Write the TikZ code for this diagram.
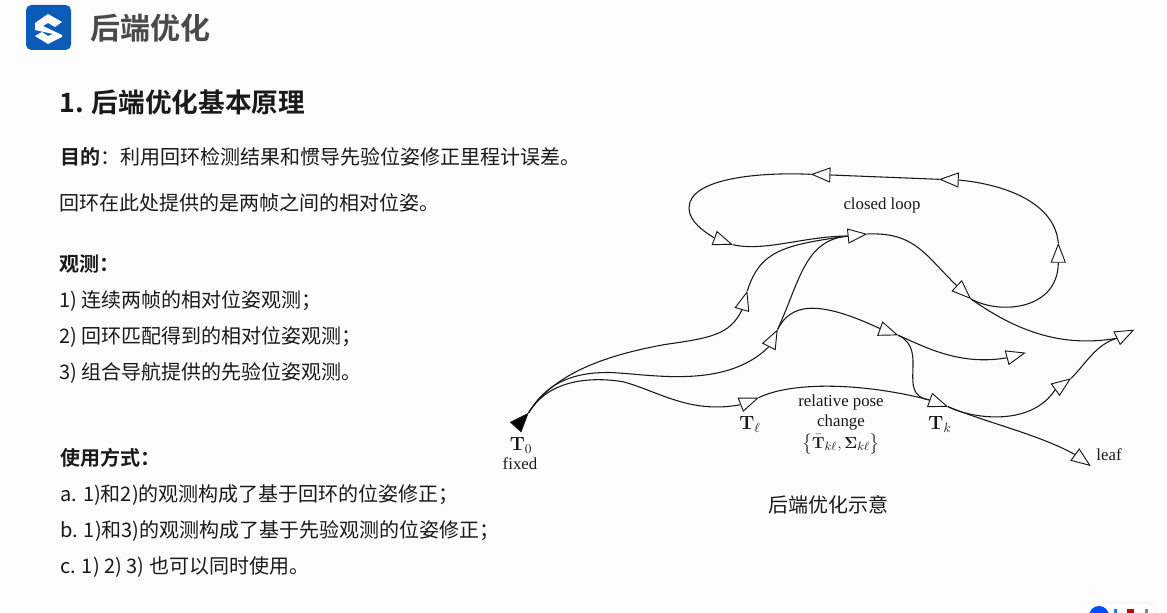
\documentclass[tikz,border=0pt]{standalone}
\usepackage{amsmath, amssymb}
\usepackage[no-math]{fontspec}
\setmainfont{Liberation Serif}
\newfontfamily\cjk{Noto Sans CJK SC}
\newfontfamily\cjkb{Noto Sans CJK SC Bold}
\usetikzlibrary{shapes.geometric}
\definecolor{logoblue}{HTML}{0B5CB8}
\definecolor{titlegrey}{HTML}{4A4A4A}
\definecolor{bodyblack}{HTML}{1A1A1A}
\definecolor{pagewhite}{HTML}{FCFCFC}
\tikzset{
  pose/.style={isosceles triangle,isosceles triangle stretches,draw=black!90,inner sep=0pt,
    minimum height=13.5pt,minimum width=10.5pt,anchor=apex,line width=0.7pt},
  fixedpose/.style={pose,fill=black},
  edge/.style={line width=0.8pt,draw=black!90},
  bodytext/.style={anchor=west,inner sep=0pt,text=bodyblack,text height=13pt,text depth=2pt,font=\cjk\fontsize{15}{18}\selectfont},
  boldtext/.style={bodytext,font=\cjkb\fontsize{15}{18}\selectfont},
  figtext/.style={inner sep=0pt,text=black!90,font=\fontsize{12.6}{15}\selectfont},
  mathtext/.style={figtext,font=\fontsize{14}{16}\selectfont},
  infotext/.style={figtext,font=\fontsize{13}{15}\selectfont}
}
\begin{document}
\begin{tikzpicture}[x=0.75pt,y=-0.75pt]
\useasboundingbox (0,0) rectangle (1167,613);
\fill[pagewhite] (0,0) rectangle (1167,613);
% logo
\fill[logoblue,rounded corners=4pt] (26,5) rectangle (71,50);
\fill[white] (35,23) -- (48,14) -- (62,22) -- (55,27) -- (48,23) -- (43,26) -- (62,35) -- (62,37) -- (48,44) -- (35,36) -- (42,32) -- (48,36) -- (53,34) -- (35,30) -- cycle;
% heading
\node[anchor=west,inner sep=0pt,text=titlegrey,font=\cjkb\fontsize{22.5}{26}\selectfont] (title) at (90,28) {后端优化};
\node[anchor=west,inner sep=0pt,text=bodyblack,font=\cjkb\fontsize{20}{24}\selectfont] (section) at (59,102) {1. 后端优化基本原理};
% left column
\node[bodytext] (goal) at (60,157) {{\cjkb 目的}：利用回环检测结果和惯导先验位姿修正里程计误差。};
\node[bodytext] (loop) at (59,203) {回环在此处提供的是两帧之间的相对位姿。};
\node[boldtext] (obs) at (59,264) {观测：};
\node[bodytext] (obsa) at (59,300) {1) 连续两帧的相对位姿观测；};
\node[bodytext] (obsb) at (59,336) {2) 回环匹配得到的相对位姿观测；};
\node[bodytext] (obsc) at (59,372) {3) 组合导航提供的先验位姿观测。};
\node[boldtext] (use) at (60,458) {使用方式：};
\node[bodytext] (usea) at (60,494) {a. 1)和2)的观测构成了基于回环的位姿修正；};
\node[bodytext] (useb) at (60,530) {b. 1)和3)的观测构成了基于先验观测的位姿修正；};
\node[bodytext] (usec) at (60,566) {c. 1) 2) 3) 也可以同时使用。};
\node[bodytext,anchor=center] (caption) at (828,505) {后端优化示意};
% poses, placed by their tips
\node[fixedpose,rotate=48] (t0) at (528.7,412.7) {};
\node[pose,rotate=21] (tl) at (758.7,397.7) {};
\node[pose,rotate=-20] (tk) at (948,406.7) {};
\node[pose,rotate=74] (pa) at (747.3,291) {};
\node[pose,rotate=63] (pb) at (777.7,329.3) {};
\node[pose,rotate=6] (pc) at (867.3,234) {};
\node[pose,rotate=-43] (pd) at (971,299) {};
\node[pose,rotate=90] (pe) at (1058.3,243) {};
\node[pose,rotate=178] (pf) at (939,179.3) {};
\node[pose,rotate=178] (pg) at (810.7,174.3) {};
\node[pose,rotate=-20] (ph) at (732.7,244.7) {};
\node[pose,rotate=-20] (pi) at (898.3,335.3) {};
\node[pose,rotate=15] (pj) at (1025.7,352.7) {};
\node[pose,rotate=26] (pk) at (1134.3,329.7) {};
\node[pose,rotate=36] (pl) at (1071,378.3) {};
\node[pose,rotate=-36] (leaf) at (1090.7,466) {};
% odometry paths
\draw[edge] (t0.apex) .. controls (550,380) and (590,358) .. (665,344.5) .. controls (710,338) and (730,335) .. (pa.lower side);
\draw[edge] (t0.apex) .. controls (545,385) and (570,372) .. (610,372.5) .. controls (650,374) and (725,390) .. (pb.lower side);
\draw[edge] (t0.apex) .. controls (545,385) and (580,375) .. (623,381.7) .. controls (660,392) and (690,414) .. (tl.lower side);
\draw[edge] (tl.apex) .. controls (790,382) and (860,382) .. (tk.lower side);
\draw[edge] (tk.apex) .. controls (970,418) and (1030,428) .. (pl.lower side);
\draw[edge] (pl.apex) .. controls (1085,365) and (1095,345) .. (pk.lower side);
\draw[edge] (tk.apex) .. controls (985,422) and (1040,435) .. (leaf.lower side);
\draw[edge] (pb.apex) .. controls (790,305) and (815,298) .. (pi.lower side);
\draw[edge] (pi.apex) .. controls (925,347) and (960,366) .. (pj.lower side);
\draw[edge] (pi.apex) .. controls (930,350) and (895,395) .. (tk.lower side);
\draw[edge] (pd.apex) .. controls (1015,330) and (1060,348) .. (pk.lower side);
\draw[edge] (pa.apex) .. controls (760,250) and (785,245) .. (pc.lower side);
\draw[edge] (pb.apex) .. controls (800,280) and (805,240) .. (pc.lower side);
% closed loop
\draw[edge] (ph.apex) .. controls (765,252) and (805,236) .. (pc.lower side);
\draw[edge] (pc.apex) .. controls (915,232) and (925,255) .. (pd.lower side);
\draw[edge] (pd.apex) .. controls (1000,315) and (1058,310) .. (pe.lower side);
\draw[edge] (pe.apex) .. controls (1055,205) and (1010,185) .. (pf.lower side);
\draw[edge] (pf.apex) -- (pg.lower side);
\draw[edge] (pg.apex) .. controls (760,172) and (689,178) .. (689,208) .. controls (689,222) and (705,232) .. (ph.lower side);
% labels
\node[figtext] (looplabel) at (882,205) {closed loop};
\node[figtext] (relative) at (841,402) {relative pose};
\node[figtext] (change) at (841,422) {change};
\node[infotext] (info) at (841,444) {$\bigl\{\bar{\mathbf{T}}_{k\ell},\mathbf{\Sigma}_{k\ell}\bigr\}$};
\node[mathtext] (tllabel) at (750,424) {$\mathbf{T}_{\ell}$};
\node[mathtext] (tklabel) at (940,424) {$\mathbf{T}_{k}$};
\node[mathtext] (t0label) at (521,445) {$\mathbf{T}_{0}$};
\node[figtext] (fixedlabel) at (520,464) {fixed};
\node[figtext] (leaflabel) at (1109,455) {leaf};
% corner of the player badge
\begin{scope}
\clip (0,0) rectangle (1167,613);
\fill[white,draw=black!8,rounded corners=6pt] (1098,603) rectangle (1155,625);
\fill[blue!70!cyan] (1099,616) circle (10);
\fill[blue!50!cyan] (1114,609) rectangle (1117,613);
\fill[red!80!black] (1127,609) rectangle (1134,613);
\fill[black!50] (1145,609) rectangle (1148,613);
\end{scope}
\end{tikzpicture}
\end{document}
